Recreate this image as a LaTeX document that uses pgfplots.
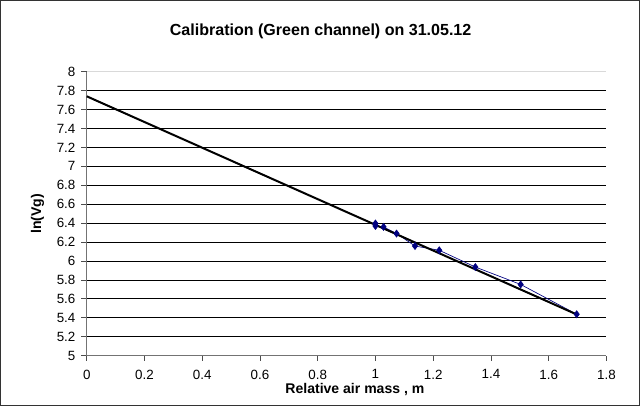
\documentclass[border=0pt]{standalone}
\usepackage{pgfplots}
\pgfplotsset{compat=1.18}
\usepackage{fontspec}
\setmainfont{Liberation Sans}
\definecolor{navyblue}{RGB}{0,0,128}
\begin{document}
\begin{tikzpicture}
\begin{axis}[
  scale only axis,
  width=388.5pt, height=212.25pt,
  xmin=0, xmax=1.8, ymin=5, ymax=8,
  xtick={0,0.2,0.4,0.6,0.8,1,1.2,1.4,1.6,1.8},
  ytick={5,5.2,5.4,5.6,5.8,6,6.2,6.4,6.6,6.8,7,7.2,7.4,7.6,7.8},
  extra y ticks={8},
  extra y tick style={grid style={black!15, line width=0.75pt}},
  axis x line*=bottom, axis y line*=left,
  axis line style={black!55, line width=0.75pt},
  tick align=outside, major tick length=4pt,
  tick style={black!70, line width=0.6pt},
  ymajorgrids,
  grid style={black, line width=0.6pt},
  /pgf/number format/assume math mode=true,
  ticklabel style={font=\fontsize{10}{12}\selectfont},
  xticklabel style={yshift=-3pt},
  yticklabel style={xshift=-1pt},
  title={\textbf{Calibration (Green channel) on 31.05.12}},
  title style={at={(0.45,1)}, anchor=center, yshift=24pt, font=\fontsize{12}{14}\selectfont},
  xlabel={\textbf{Relative air mass , m}},
  ylabel={\textbf{ln(Vg)}},
  label style={font=\fontsize{10.5}{12}\selectfont},
  xlabel style={at={(axis description cs:0.516,0)}, anchor=center, yshift=-25pt},
  ylabel style={at={(axis description cs:-0.095,0.5)}, anchor=center},
  clip=false,
]
\addplot[navyblue, line width=0.5pt, mark=diamond*, mark size=2.6pt,
  mark options={fill=navyblue, draw=navyblue}] coordinates {
  (1.000, 6.396)
  (1.000, 6.370)
  (1.028, 6.360)
  (1.073, 6.290)
  (1.137, 6.158)
  (1.221, 6.113)
  (1.346, 5.936)
  (1.503, 5.752)
  (1.697, 5.437)
};
\addplot[black, line width=1.5pt, mark=none] coordinates {
  (0, 7.74)
  (1.697, 5.435)
};
\end{axis}
\draw[black!80, line width=0.75pt] ([xshift=-64.5pt,yshift=-37.5pt]current axis.south west)
  rectangle ([xshift=24.75pt,yshift=53.25pt]current axis.north east);
\end{tikzpicture}
\end{document}
